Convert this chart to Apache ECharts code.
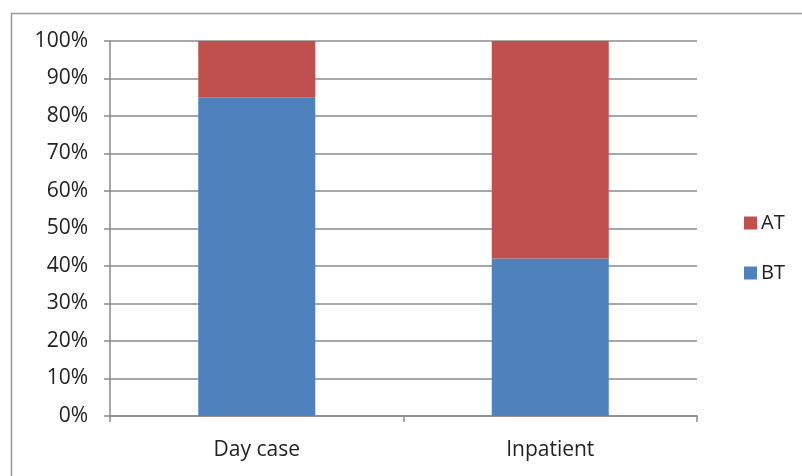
<!DOCTYPE html>
<html>
<head>
<meta charset="utf-8">
<script src="https://cdn.jsdelivr.net/npm/echarts@6/dist/echarts.min.js"></script>
<style>
  html, body { margin: 0; padding: 0; background: #fff; }
  #chart { width: 802px; height: 476px; }
</style>
</head>
<body>
<div id="chart"></div>
<script>
// Share of patients by admission type (stacked to 100%)
const categories = ['Day case', 'Inpatient'];
const btValues = [85, 42];
const atValues = [15, 58];
const seriesNames = ['AT', 'BT'];

const chart = echarts.init(document.getElementById('chart'), null, { renderer: 'canvas' });
const axisGray = '#8a8a8a';
const font = 'Open Sans';
const textColor = '#222222';

chart.setOption({
  animation: false,
  backgroundColor: '#ffffff',
  graphic: [{
    type: 'rect',
    shape: { x: 11.5, y: 13.5, width: 820, height: 500 },
    style: { fill: 'none', stroke: '#9a9a9a', lineWidth: 1.5 },
    silent: true
  }],
  grid: { left: 110, right: 105, top: 41, bottom: 60, containLabel: false },
  legend: {
    data: seriesNames,
    orient: 'vertical',
    left: 739,
    top: 208,
    itemWidth: 13,
    itemHeight: 13,
    itemGap: 30,
    icon: 'rect',
    textStyle: { fontFamily: font, fontSize: 20, color: textColor, padding: [0, 0, 0, -1] }
  },
  xAxis: {
    type: 'category',
    data: categories,
    boundaryGap: true,
    axisLine: { show: true, lineStyle: { color: axisGray, width: 1.5 } },
    axisTick: { show: true, length: 6, inside: false, alignWithLabel: false, lineStyle: { color: axisGray, width: 1.5 } },
    axisLabel: { fontFamily: font, fontSize: 21, color: textColor, margin: 24 }
  },
  yAxis: {
    type: 'value',
    min: 0,
    max: 100,
    interval: 10,
    axisLine: { show: true, lineStyle: { color: axisGray, width: 1.5 } },
    axisTick: { show: true, length: 6, lineStyle: { color: axisGray, width: 1.5 } },
    splitLine: { show: true, lineStyle: { color: axisGray, width: 1.5 } },
    axisLabel: { formatter: '{value}%', fontFamily: font, fontSize: 21, color: textColor, margin: 22 }
  },
  series: [
    {
      name: 'BT', type: 'bar', stack: 'total', data: btValues, barWidth: 117,
      itemStyle: { color: '#4f81bd' }
    },
    {
      name: 'AT', type: 'bar', stack: 'total', data: atValues, barWidth: 117,
      itemStyle: { color: '#c0504d' }
    }
  ]
});
</script>
</body>
</html>
